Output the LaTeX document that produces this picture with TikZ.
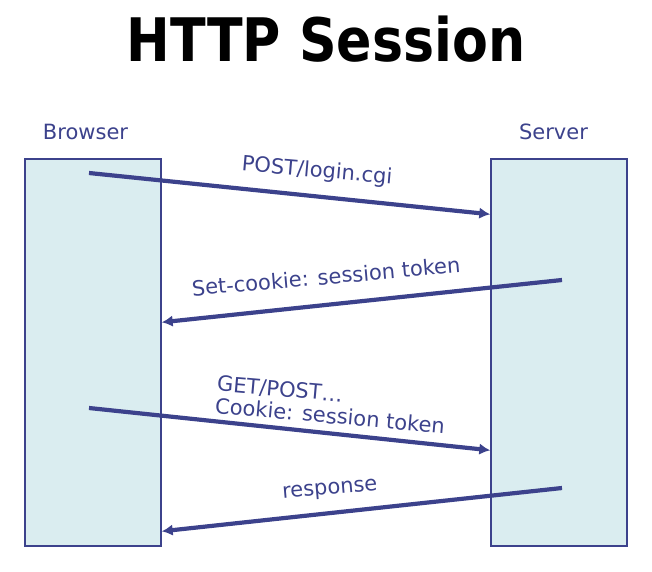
\documentclass[tikz,border=0pt]{standalone}
\usepackage{fontspec}
\setmainfont{DejaVu Sans}
\newfontfamily\titlefont{DejaVu Sans}[FakeStretch=0.87]
\usetikzlibrary{arrows.meta,calc,positioning}
\definecolor{linkblue}{RGB}{60,66,140}
\definecolor{lanefill}{RGB}{218,237,240}
\tikzset{
  lane/.style={draw=linkblue,line width=1.4bp,fill=lanefill,
    minimum width=136bp,minimum height=387bp,inner sep=0pt},
  party/.style={text=linkblue,font=\fontsize{21bp}{21bp}\selectfont,anchor=base},
  msg/.style={text=linkblue,font=\fontsize{21bp}{22.5bp}\selectfont,inner sep=2bp}
}
\tikzstyle{msgarrow} = [draw=linkblue,line width=4.2bp,-{Latex[length=11bp,width=11.5bp]}]

\begin{document}
\begin{tikzpicture}[x=1bp,y=-1bp]
  \useasboundingbox (0,0) rectangle (652,572);
  \node[font=\titlefont\bfseries\fontsize{60bp}{60bp}\selectfont,anchor=base]
    (title) at (326,62) {HTTP Session};

  % the two lanes
  \node[lane] (browser) at (93,352.5) {};
  \node[lane] (server) at (559,352.5) {};
  \node[party] (browserlbl) at (85.5,140) {Browser};
  \node[party] (serverlbl) at (553.5,140) {Server};

  % messages
  \coordinate (login) at (89,173);
  \coordinate (setck) at (562,280);
  \coordinate (getreq) at (89,408);
  \coordinate (resp) at (562,488);
  \draw[msgarrow] (login) -- ($(server.north west)+(0,56)$);
  \draw[msgarrow] (setck) -- ($(browser.north east)+(0,164)$);
  \draw[msgarrow] (getreq) -- ($(server.north west)+(0,292)$);
  \draw[msgarrow] (resp) -- ($(browser.north east)+(0,373)$);

  \node[msg,rotate=-5] (loginlbl) at (317,171.5) {POST/login.cgi};
  \node[msg,rotate=5] (setcklbl) at (326,276.5) {Set-cookie: session token};
  \node[msg,rotate=-5,align=left,anchor=north west] (getlbl) at (216,373)
    {GET/POST…\\Cookie: session token};
  \node[msg,rotate=5] (resplbl) at (330,490.5) {response};
\end{tikzpicture}
\end{document}
